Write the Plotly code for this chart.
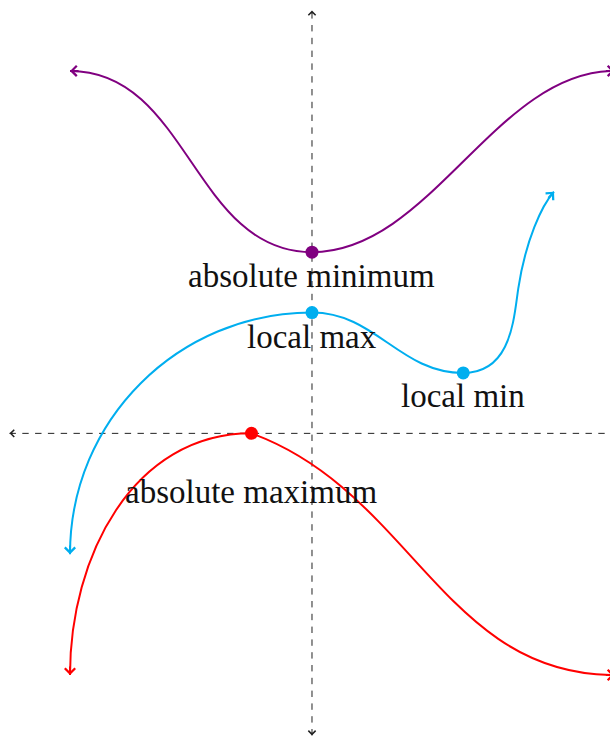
import math
import plotly.graph_objects as go

# ---- curves as cubic Bezier chains: anchor points + two handles per segment ----
purple_nodes_x = [-4, 0, 5]
purple_nodes_y = [6, 3, 6]
purple_handles_x = [-2.04, -1.96, 1.96, 3.04]
purple_handles_y = [6, 3, 3, 6]

cyan_nodes_x = [-4, 0, 2.5, 3.41, 4]
cyan_nodes_y = [-2, 2, 1, 2.4, 4]
cyan_handles_x = [-4, -2.215, 1.054, 1.446, 3.3, 3.335, 3.53, 3.8]
cyan_handles_y = [0.215, 2, 2, 1, 1, 1.905, 3.19, 3.78]

red_nodes_x = [-4, -1, 5]
red_nodes_y = [-4, 0, -4]
red_handles_x = [-4, -2.96, 1.65, 2.18]
red_handles_y = [-2.04, 0, -0.965, -4]

# ---- marked points and their labels ----
pt_x = [0, 0, 2.5, -1]
pt_y = [3, 2, 1, 0]
pt_labels = ["absolute minimum", "local max", "local min", "absolute maximum"]
pt_colors = ["#800080", "#00AEEF", "#00AEEF", "#FF0000"]
label_drop = [24, 24, 23, 59]

# ---- coordinate axes extents ----
axis_x = [-5, 5]
axis_y = [-5, 7]

PURPLE, CYAN, RED = "#800080", "#00AEEF", "#FF0000"
AXIS_COLOR = "#222222"
FONT = "Liberation Serif"
CURVE_W = 2.0


def bezier_path(nx, ny, hx, hy):
    d = f"M {nx[0]},{ny[0]}"
    for i in range(1, len(nx)):
        d += (f" C {hx[2*i-2]},{hy[2*i-2]} {hx[2*i-1]},{hy[2*i-1]}"
              f" {nx[i]},{ny[i]}")
    return d


def end_arrow(tx, ty, hx, hy, color, width, size, head=4, step=0.15):
    # arrowhead at (tx, ty), oriented along the tangent towards the handle (hx, hy)
    dx, dy = hx - tx, hy - ty
    n = math.hypot(dx, dy)
    return dict(x=tx, y=ty, ax=tx + step * dx / n, ay=ty + step * dy / n,
                xref="x", yref="y", axref="x", ayref="y", text="",
                font=dict(size=1), borderpad=0,
                showarrow=True, arrowhead=head, arrowsize=size, arrowwidth=width,
                arrowcolor=color, standoff=0, startstandoff=0)


shapes = []
# dashed coordinate axes
shapes.append(dict(type="line", xref="x", yref="y", x0=axis_x[0], x1=axis_x[1], y0=0, y1=0,
                   line=dict(color=AXIS_COLOR, width=1, dash="6.4px,6.4px"), layer="below"))
shapes.append(dict(type="line", xref="x", yref="y", x0=0, x1=0, y0=axis_y[0], y1=axis_y[1],
                   line=dict(color=AXIS_COLOR, width=1, dash="6.4px,6.4px"), layer="below"))

curves = [
    (purple_nodes_x, purple_nodes_y, purple_handles_x, purple_handles_y, PURPLE),
    (cyan_nodes_x, cyan_nodes_y, cyan_handles_x, cyan_handles_y, CYAN),
    (red_nodes_x, red_nodes_y, red_handles_x, red_handles_y, RED),
]
annotations = []
for nx, ny, hx, hy, col in curves:
    shapes.append(dict(type="path", xref="x", yref="y", path=bezier_path(nx, ny, hx, hy),
                       line=dict(color=col, width=CURVE_W), layer="below"))
    annotations.append(end_arrow(nx[0], ny[0], hx[0], hy[0], col, CURVE_W, 1.0))
    annotations.append(end_arrow(nx[-1], ny[-1], hx[-1], hy[-1], col, CURVE_W, 1.0))

# arrowheads at the ends of the axes
for tx, ty, hx, hy in [(axis_x[0], 0, 0, 0), (axis_x[1], 0, 0, 0),
                       (0, axis_y[0], 0, 0), (0, axis_y[1], 0, 0)]:
    annotations.append(end_arrow(tx, ty, hx, hy, AXIS_COLOR, 1, 1.4, step=0.06))

# labels under the points
for x, y, txt, drop in zip(pt_x, pt_y, pt_labels, label_drop):
    annotations.append(dict(x=x, y=y, xref="x", yref="y", text=txt, showarrow=False,
                            xanchor="center", yanchor="middle", yshift=-drop,
                            font=dict(family=FONT, size=33, color="#111111")))

fig = go.Figure()
# marked points
fig.add_trace(go.Scatter(x=pt_x, y=pt_y, mode="markers",
                         marker=dict(color=pt_colors, size=13, line=dict(width=0)),
                         hoverinfo="skip", cliponaxis=False))

fig.update_layout(
    width=610, height=736,
    margin=dict(l=0, r=0, t=0, b=0),
    paper_bgcolor="white", plot_bgcolor="white",
    showlegend=False,
    shapes=shapes,
    annotations=annotations,
    xaxis=dict(range=[-5.157, 4.926], visible=False, fixedrange=True),
    yaxis=dict(range=[-5.01, 7.174], visible=False, fixedrange=True),
)

fig.write_html("out.html", config={"displayModeBar": False})
